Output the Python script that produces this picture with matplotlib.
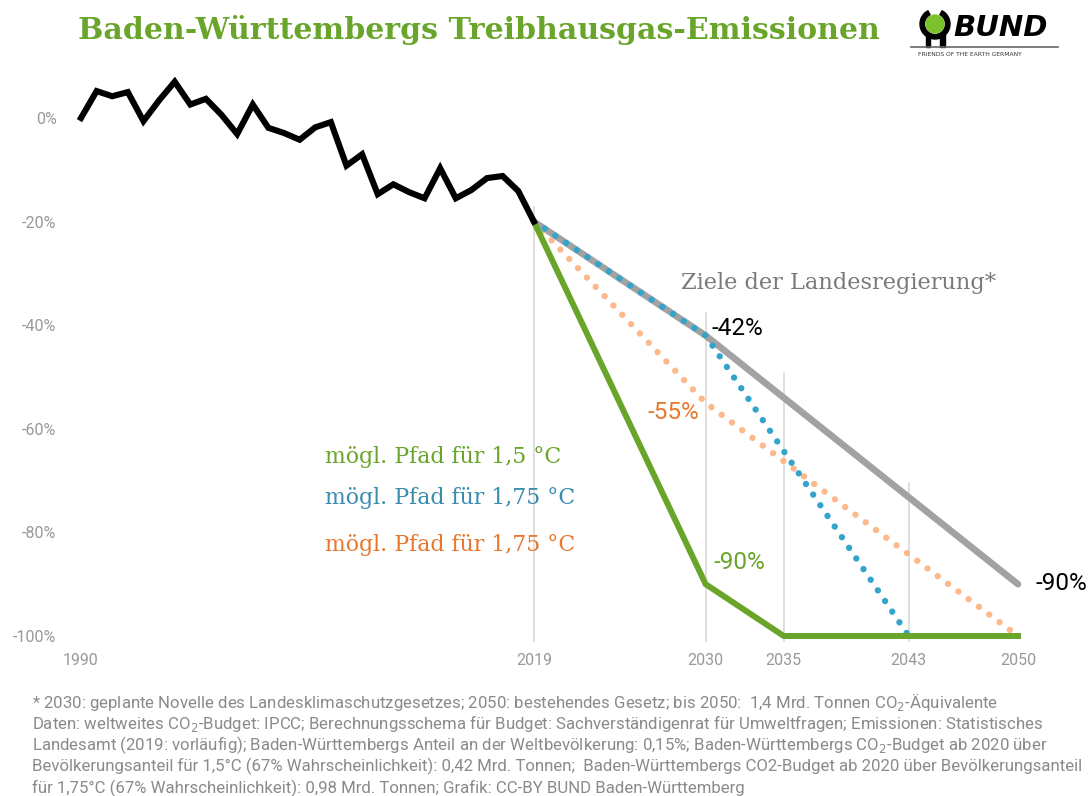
import matplotlib
matplotlib.use("Agg")
import matplotlib.pyplot as plt
from matplotlib.patches import Circle, Wedge, Rectangle

# Emissionen gegenüber 1990 (%)
jahre = list(range(1990, 2020))
emissionen = [0, 5.2, 4.2, 5.0, -0.6, 3.4, 7.0, 2.6, 3.7, 0.6,
              -3.1, 2.6, -1.9, -2.9, -4.2, -1.8, -0.8, -9.2, -7.0, -14.7,
              -12.8, -14.3, -15.5, -9.7, -15.5, -13.9, -11.6, -11.2, -14.1, -20.0]

# Pfade ab 2019
ziele_x = [2019, 2030, 2050]
ziele_y = [-20, -42, -90]
pfad15_x = [2019, 2030, 2035, 2050]
pfad15_y = [-20, -90, -100, -100]
pfad175b_x = [2019, 2030, 2043]
pfad175b_y = [-20, -42, -100]
pfad175o_x = [2019, 2030, 2050]
pfad175o_y = [-20, -55, -100]

# senkrechte Hilfslinien (Jahr, Oberkante)
hilfslinien = [(2019, -17.2), (2030, -37.6), (2035, -49.2), (2043, -70.5)]

xticks = [1990, 2019, 2030, 2035, 2043, 2050]
yticks = [0, -20, -40, -60, -80, -100]

GRUEN = '#68a52a'
BLAU = '#3a8cae'
BLAU_P = '#35a4cc'
ORANGE = '#e8772e'
ORANGE_P = '#fbb98c'
GRAU = '#a2a2a2'
TICK = '#999999'

W, H = 1090, 796
fig = plt.figure(figsize=(W / 100, H / 100), dpi=100)

# Achse so legen, dass 1990 -> px 81, 2050 -> px 1018, 0% -> px 118, -100% -> px 636
px_x = (1018 - 81) / 60.0
px_y = (636 - 118) / 100.0
x0, x1 = 1989.5, 2052
y0, y1 = -103, 10
left = 81 - (1990 - x0) * px_x
right = 1018 + (x1 - 2050) * px_x
top = 118 - y1 * px_y
bottom = 636 - (y0 + 100) * px_y
ax = fig.add_axes([left / W, 1 - bottom / H, (right - left) / W, (bottom - top) / H])
ax.set_xlim(x0, x1)
ax.set_ylim(y0, y1)
for s in ax.spines.values():
    s.set_visible(False)

for jahr, oben in hilfslinien:
    ax.plot([jahr, jahr], [oben, -101], color='#dcdcdc', lw=1.3, zorder=1)

ax.plot(ziele_x, ziele_y, color=GRAU, lw=4.8, solid_capstyle='round', zorder=2)
ax.plot(pfad175o_x, pfad175o_y, color=ORANGE_P, lw=4.6, linestyle=(0, (0.01, 2.0)),
        dash_capstyle='round', zorder=3)
ax.plot(pfad175b_x, pfad175b_y, color=BLAU_P, lw=4.6, linestyle=(0, (0.01, 2.0)),
        dash_capstyle='round', zorder=4)
ax.plot(pfad15_x, pfad15_y, color=GRUEN, lw=4.3, solid_joinstyle='miter', zorder=5)
ax.plot(jahre, emissionen, color='black', lw=4.4, solid_joinstyle='miter', zorder=6)

ax.set_xticks(xticks)
ax.set_xticklabels([str(j) for j in xticks])
ax.set_yticks(yticks)
ax.set_yticklabels([f'{v}%' for v in yticks])
ax.tick_params(length=0, colors=TICK, labelsize=11.5)
ax.tick_params(axis='y', pad=12)
ax.tick_params(axis='x', pad=1)
for lab in ax.get_xticklabels() + ax.get_yticklabels():
    lab.set_family('Roboto')

# Beschriftungen
ax.text(2028.4, -31.9, 'Ziele der Landesregierung*', color='#7a7a7a',
        fontsize=16.2, family='DejaVu Serif', va='center')
ax.text(2030.4, -40.6, '-42%', color='black', fontsize=17.5, family='Roboto', va='center')
ax.text(2029.6, -56.8, '-55%', color=ORANGE, fontsize=17.5, family='Roboto', va='center', ha='right')
ax.text(2030.5, -85.9, '-90%', color=GRUEN, fontsize=17.5, family='Roboto', va='center')
ax.text(2051.1, -89.8, '-90%', color='black', fontsize=17.5, family='Roboto', va='center')

ax.text(2005.6, -65.4, 'mögl. Pfad für 1,5 °C', color=GRUEN, fontsize=15.8,
        family='DejaVu Serif', va='center')
ax.text(2005.6, -73.4, 'mögl. Pfad für 1,75 °C', color=BLAU, fontsize=15.8,
        family='DejaVu Serif', va='center')
ax.text(2005.6, -82.4, 'mögl. Pfad für 1,75 °C', color=ORANGE, fontsize=15.8,
        family='DejaVu Serif', va='center')

# Titel
fig.text(78 / W, 1 - 30 / H, 'Baden-Württembergs Treibhausgas-Emissionen',
         color=GRUEN, fontsize=21.6, fontweight='bold', family='DejaVu Serif', va='center')

# BUND-Logo
lax = fig.add_axes([900 / W, 1 - 62 / H, 165 / W, 60 / H])
lax.set_xlim(900, 1065)
lax.set_ylim(62, 2)
lax.axis('off')
lax.add_patch(Wedge((935, 24), 15, -62, 242, width=4.5, color='black'))
lax.add_patch(Circle((935, 24), 9, color='#7dc12c'))
lax.add_patch(Rectangle((925.5, 34), 4.2, 13, color='black'))
lax.add_patch(Rectangle((940.3, 34), 4.2, 13, color='black'))
lax.text(953, 28, 'BUND', fontsize=21, fontweight='bold', fontstyle='italic',
         family='DejaVu Sans', va='center', ha='left', color='black')
lax.plot([911, 1058], [47, 47], color='#666666', lw=1.2)
lax.text(918, 54.5, 'FRIENDS OF THE EARTH GERMANY', fontsize=4.3, family='DejaVu Sans',
         va='center', ha='left', color='#333333')

# Fußnote
fussnote = [
    '* 2030: geplante Novelle des Landesklimaschutzgesetzes; 2050: bestehendes Gesetz; bis 2050:  1,4 Mrd. Tonnen CO$_2$-Äquivalente',
    'Daten: weltweites CO$_2$-Budget: IPCC; Berechnungsschema für Budget: Sachverständigenrat für Umweltfragen; Emissionen: Statistisches',
    'Landesamt (2019: vorläufig); Baden-Württembergs Anteil an der Weltbevölkerung: 0,15%; Baden-Württembergs CO$_2$-Budget ab 2020 über',
    'Bevölkerungsanteil für 1,5°C (67% Wahrscheinlichkeit): 0,42 Mrd. Tonnen;  Baden-Württembergs CO2-Budget ab 2020 über Bevölkerungsanteil',
    'für 1,75°C (67% Wahrscheinlichkeit): 0,98 Mrd. Tonnen; Grafik: CC-BY BUND Baden-Württemberg',
]
for i, zeile in enumerate(fussnote):
    fig.text(32 / W, 1 - (702 + i * 21.5) / H, zeile, color='#8a8a8a', fontsize=12.1,
             family='Roboto', va='center', ha='left')

fig.savefig('out.png', dpi=100, facecolor='white')
